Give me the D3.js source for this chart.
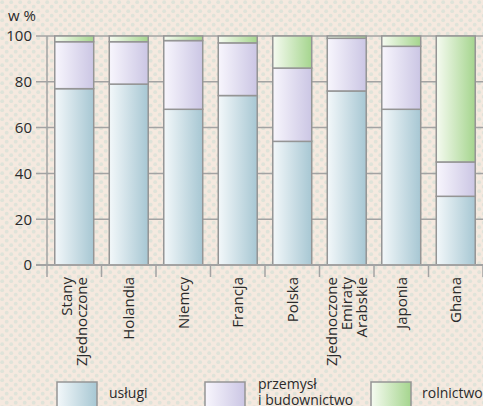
<!DOCTYPE html>
<html><head><meta charset="utf-8">
<script src="https://cdn.jsdelivr.net/npm/d3@7"></script>
<style>html,body{margin:0;padding:0;background:#f5e9df;}svg{display:block;}</style>
</head><body>
<script>
const categories = [["Stany","Zjednoczone"],["Holandia"],["Niemcy"],["Francja"],["Polska"],["Zjednoczone","Emiraty","Arabskie"],["Japonia"],["Ghana"]];
const uslugi = [77, 79, 68, 74, 54, 76, 68, 30];
const przemysl = [20.5, 18.5, 30, 23, 32, 23, 27.5, 15];
const rolnictwo = [2.5, 2.5, 2, 3, 14, 1, 4.5, 55];
const yTicks = [0, 20, 40, 60, 80, 100];
const seriesNames = ["usługi", ["przemysł","i budownictwo"], "rolnictwo"];

const W = 483, H = 406;
const svg = d3.select("body").append("svg").attr("width", W).attr("height", H);
const defs = svg.append("defs");
const pat = defs.append("pattern").attr("id","bg").attr("width",9).attr("height",9).attr("patternUnits","userSpaceOnUse");
pat.append("rect").attr("width",9).attr("height",9).attr("fill","#f5e9df");
pat.append("circle").attr("cx",2.2).attr("cy",2.2).attr("r",1.9).attr("fill","#dfe3d9");
pat.append("circle").attr("cx",6.7).attr("cy",6.7).attr("r",1.9).attr("fill","#dfe3d9");
svg.append("rect").attr("width",W).attr("height",H).attr("fill","url(#bg)");

const grads = [["gU","#f3f8fa","#a7c7d3"],["gP","#f8f6fd","#cbc6e4"],["gR","#f6fbf1","#a5d58e"]];
grads.forEach(([id,a,b])=>{
  const g = defs.append("linearGradient").attr("id",id).attr("x1","0").attr("x2","1").attr("y1","0").attr("y2","0");
  g.append("stop").attr("offset","0").attr("stop-color",a);
  g.append("stop").attr("offset","1").attr("stop-color",b);
});

const x0 = 47, x1 = 483, yTop = 36, yBot = 265;
const names = categories.map(c=>c.join(" "));
const x = d3.scaleBand().domain(names).range([x0, x1]).paddingInner(0.285).paddingOuter(0.1425);
const band = d3.scaleBand().domain(names).range([x0, x1]);
const y = d3.scaleLinear().domain([0,100]).range([yBot, yTop]);
const font = "'Open Sans', 'Noto Sans', sans-serif";
const txt = "#2a2a2a";

// grid lines
svg.append("g").selectAll("line").data(yTicks).join("line")
  .attr("x1", 36).attr("x2", W).attr("y1", d=>y(d)).attr("y2", d=>y(d))
  .attr("stroke","#a3a3a3").attr("stroke-width",1.5);

// y labels
svg.append("g").selectAll("text").data(yTicks).join("text")
  .attr("x", 32).attr("y", d=>y(d)).attr("dy","0.36em").attr("text-anchor","end")
  .attr("font-family", font).attr("font-size", 15).attr("fill",txt).text(d=>d);
svg.append("text").attr("x",8).attr("y",21).attr("font-family",font).attr("font-size",15).attr("fill",txt).text("w %");

// vertical axis line
svg.append("line").attr("x1",x0).attr("x2",x0).attr("y1",yTop).attr("y2",yBot).attr("stroke","#a3a3a3").attr("stroke-width",1.5);

// stacked bars
const data = names.map((n,i)=>({name:n, u:uslugi[i], p:przemysl[i], r:rolnictwo[i]}));
const stack = d3.stack().keys(["u","p","r"])(data);
const fills = ["url(#gU)","url(#gP)","url(#gR)"];
stack.forEach((s,k)=>{
  svg.append("g").selectAll("rect").data(s).join("rect")
    .attr("x", d=>x(d.data.name)).attr("width", x.bandwidth())
    .attr("y", d=>y(d[1])).attr("height", d=>y(d[0])-y(d[1]))
    .attr("fill", fills[k]).attr("stroke","#959595").attr("stroke-width",1.5);
});

// x axis line & ticks
svg.append("line").attr("x1",36).attr("x2",W).attr("y1",yBot).attr("y2",yBot).attr("stroke","#a3a3a3").attr("stroke-width",2);
const bounds = names.map(n=>band(n)).concat([x1]);
svg.append("g").selectAll("line").data(bounds).join("line")
  .attr("x1",d=>d).attr("x2",d=>d).attr("y1",yBot).attr("y2",277)
  .attr("stroke","#a3a3a3").attr("stroke-width",1.5);

// x labels
categories.forEach((lines,i)=>{
  const cx = band(names[i]) + band.bandwidth()/2;
  const n = lines.length;
  lines.forEach((t,j)=>{
    const lx = cx + (j - (n-1)/2)*15 + 5.5;
    svg.append("text").attr("transform",`translate(${lx},277) rotate(-90)`)
      .attr("text-anchor","end").attr("font-family",font).attr("font-size",15).attr("fill",txt).text(t);
  });
});

// legend
const legX = [57, 205, 371];
const legTX = [109, 258, 422];
seriesNames.forEach((nm,i)=>{
  svg.append("rect").attr("x",legX[i]).attr("y",382).attr("width",40).attr("height",30)
    .attr("fill",fills[i]).attr("stroke","#959595").attr("stroke-width",1.5);
  if (Array.isArray(nm)) {
    nm.forEach((t,j)=>svg.append("text").attr("x",legTX[i]).attr("y",389+j*16).attr("font-family",font).attr("font-size",14).attr("fill",txt).text(t));
  } else {
    svg.append("text").attr("x",legTX[i]).attr("y",398).attr("font-family",font).attr("font-size",14).attr("fill",txt).text(nm);
  }
});
</script>
</body></html>
